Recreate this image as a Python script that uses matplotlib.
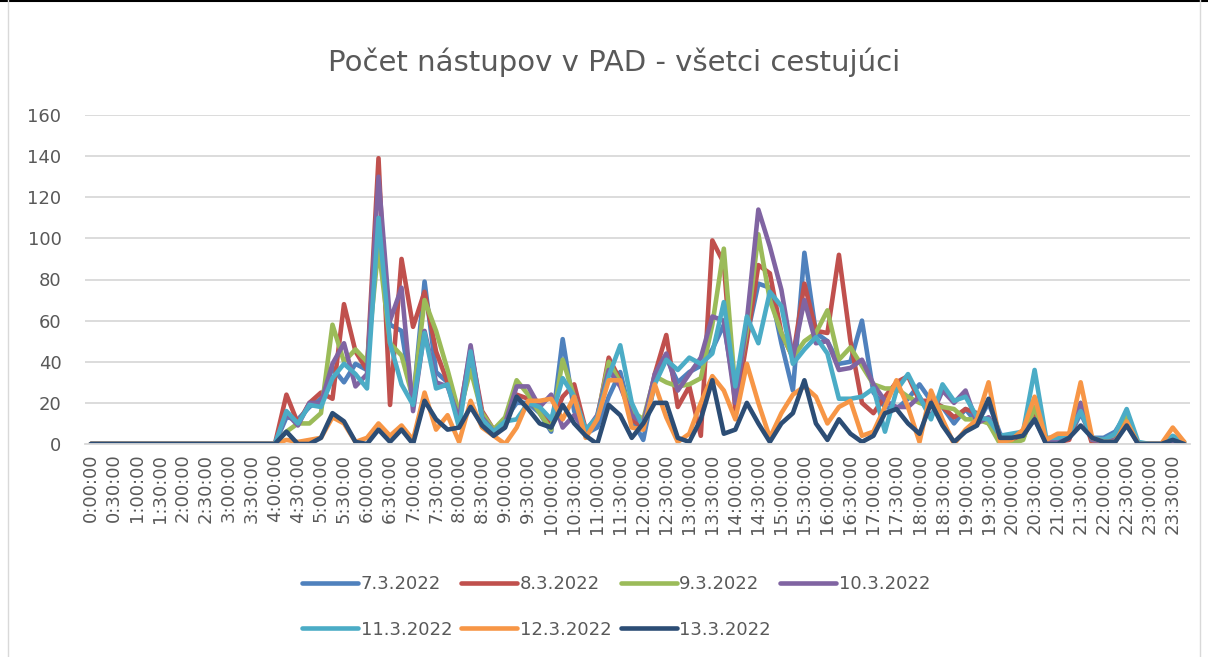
import matplotlib
matplotlib.use("Agg")
import matplotlib.pyplot as plt
from matplotlib.lines import Line2D

# 15-minute slots over one day
times = ["%d:%02d:00" % (h, m) for h in range(24) for m in (0, 15, 30, 45)]

d_07 = [0, 0, 0, 0, 0, 0, 0, 0, 0, 0, 0, 0, 0, 0, 0, 0,
        0, 13, 12, 18, 22, 37, 30, 39, 36, 108, 58, 55, 20, 79, 35, 30,
        12, 40, 15, 6, 12, 20, 20, 15, 6, 51, 16, 5, 8, 23, 35, 12,
        2, 30, 42, 30, 35, 38, 46, 58, 24, 52, 78, 76, 49, 26, 93, 54,
        50, 39, 40, 60, 25, 18, 17, 22, 29, 21, 18, 10, 17, 10, 20, 5,
        0, 4, 14, 1, 2, 3, 15, 3, 3, 6, 15, 0, 0, 0, 1, 0]
d_08 = [0, 0, 0, 0, 0, 0, 0, 0, 0, 0, 0, 0, 0, 0, 0, 0,
        0, 24, 10, 20, 25, 22, 68, 45, 36, 139, 19, 90, 57, 74, 45, 30,
        14, 46, 16, 7, 12, 24, 22, 16, 10, 23, 29, 7, 12, 42, 31, 12,
        8, 34, 53, 18, 28, 4, 99, 88, 16, 50, 87, 83, 54, 42, 78, 55,
        54, 92, 50, 20, 15, 23, 30, 33, 21, 21, 18, 13, 17, 15, 10, 3,
        2, 3, 15, 0, 1, 2, 18, 0, 0, 2, 12, 0, 0, 0, 1, 0]
d_09 = [0, 0, 0, 0, 0, 0, 0, 0, 0, 0, 0, 0, 0, 0, 0, 0,
        0, 6, 10, 10, 15, 58, 40, 46, 40, 96, 49, 43, 22, 70, 55, 36,
        15, 36, 15, 7, 13, 31, 24, 15, 7, 41, 23, 6, 13, 40, 30, 16,
        12, 33, 30, 28, 29, 32, 58, 95, 26, 55, 102, 70, 54, 42, 50, 54,
        65, 41, 47, 38, 29, 27, 27, 23, 20, 18, 18, 17, 12, 12, 10, 0,
        0, 2, 18, 2, 2, 4, 20, 2, 2, 3, 14, 0, 0, 0, 0, 0]
d_10 = [0, 0, 0, 0, 0, 0, 0, 0, 0, 0, 0, 0, 0, 0, 0, 0,
        0, 15, 9, 20, 20, 39, 49, 28, 34, 130, 60, 76, 16, 55, 30, 28,
        12, 48, 13, 6, 10, 28, 28, 18, 24, 8, 14, 6, 14, 36, 28, 14,
        10, 34, 44, 26, 34, 42, 62, 60, 20, 60, 114, 96, 75, 42, 70, 49,
        50, 36, 37, 41, 29, 21, 18, 18, 23, 13, 26, 20, 26, 10, 13, 4,
        3, 5, 12, 1, 1, 3, 20, 2, 1, 2, 10, 0, 0, 0, 0, 0]
d_11 = [0, 0, 0, 0, 0, 0, 0, 0, 0, 0, 0, 0, 0, 0, 0, 0,
        0, 16, 10, 19, 18, 32, 39, 34, 27, 110, 49, 29, 19, 54, 27, 29,
        8, 45, 12, 6, 11, 12, 20, 18, 12, 32, 23, 7, 13, 33, 48, 20,
        8, 29, 41, 36, 42, 39, 44, 69, 28, 62, 49, 74, 67, 39, 46, 52,
        44, 22, 22, 23, 27, 6, 26, 34, 23, 12, 29, 21, 23, 13, 12, 4,
        5, 6, 36, 3, 3, 5, 16, 3, 2, 5, 17, 1, 0, 0, 4, 1]
d_12 = [0, 0, 0, 0, 0, 0, 0, 0, 0, 0, 0, 0, 0, 0, 0, 0,
        0, 2, 1, 2, 3, 13, 10, 1, 3, 10, 4, 9, 2, 25, 7, 14,
        1, 21, 8, 4, 0, 8, 21, 21, 22, 12, 23, 3, 12, 31, 31, 8,
        7, 29, 13, 1, 5, 20, 33, 26, 12, 39, 20, 3, 15, 24, 28, 23,
        10, 18, 21, 4, 6, 18, 31, 18, 1, 26, 12, 0, 7, 12, 30, 1,
        2, 7, 23, 2, 5, 5, 30, 3, 1, 1, 11, 0, 0, 0, 8, 1]
d_13 = [0, 0, 0, 0, 0, 0, 0, 0, 0, 0, 0, 0, 0, 0, 0, 0,
        0, 6, 0, 0, 3, 15, 11, 1, 0, 7, 1, 7, 0, 21, 12, 7,
        8, 18, 9, 4, 8, 23, 17, 10, 8, 19, 10, 4, 0, 19, 14, 3,
        10, 20, 20, 3, 1, 12, 31, 5, 7, 20, 10, 1, 10, 15, 31, 10,
        2, 12, 5, 1, 4, 15, 17, 10, 5, 20, 9, 1, 6, 9, 22, 3,
        3, 4, 12, 0, 0, 3, 9, 3, 1, 1, 9, 0, 0, 0, 2, 0]

series = [
    ("7.3.2022", d_07, "#4F81BD"),
    ("8.3.2022", d_08, "#C0504D"),
    ("9.3.2022", d_09, "#9BBB59"),
    ("10.3.2022", d_10, "#8064A2"),
    ("11.3.2022", d_11, "#4BACC6"),
    ("12.3.2022", d_12, "#F79646"),
    ("13.3.2022", d_13, "#2C4D75"),
]

text_col = "#595959"
W, H = 1208, 657
fig = plt.figure(figsize=(W / 100, H / 100), dpi=100)

# chart frame
fig.add_artist(Line2D([0, 1], [0.999, 0.999], color="black", lw=1.5, transform=fig.transFigure))
fig.add_artist(Line2D([8 / W, 8 / W], [0, 1], color="#D9D9D9", lw=1, transform=fig.transFigure))
fig.add_artist(Line2D([1200 / W, 1200 / W], [0, 1], color="#D9D9D9", lw=1, transform=fig.transFigure))

ax = fig.add_axes([85 / W, 1 - 444 / H, (1190 - 85) / W, (444 - 115) / H])

x = list(range(len(times)))
for name, vals, col in series:
    ax.plot(x, vals, color=col, lw=3.3, label=name,
            solid_joinstyle="round", solid_capstyle="round")

ax.set_xlim(-0.5, len(times) - 0.5)
ax.set_ylim(0, 160)
ax.set_yticks(range(0, 161, 20))
ax.set_xticks(x[::2])
ax.set_xticklabels(times[::2], rotation=90, fontsize=13, color=text_col)
ax.tick_params(axis="y", labelsize=13, labelcolor=text_col, length=0, pad=17)
ax.tick_params(axis="x", length=0, pad=7)
ax.grid(axis="y", color="#D9D9D9", lw=1.3)
ax.set_axisbelow(True)
for s in ["top", "right", "left"]:
    ax.spines[s].set_visible(False)
ax.spines["bottom"].set_color("#D9D9D9")
ax.spines["bottom"].set_linewidth(1.3)

fig.text(0.508, 1 - 62 / H, "Počet nástupov v PAD - všetci cestujúci",
         ha="center", va="center", fontsize=21, color=text_col)

# legend filled column-wise, so reorder to get rows 7-10 / 11-13
handles, labels = ax.get_legend_handles_labels()
order = [0, 4, 1, 5, 2, 6, 3]
leg = fig.legend([handles[i] for i in order], [labels[i] for i in order],
                 loc="center", bbox_to_anchor=(616 / W, 1 - 607 / H), ncol=4,
                 frameon=False, fontsize=13, handlelength=3.1, handletextpad=0.15,
                 columnspacing=0.5, labelspacing=1.5)
for t in leg.get_texts():
    t.set_color(text_col)

fig.savefig("out.png", dpi=100)
